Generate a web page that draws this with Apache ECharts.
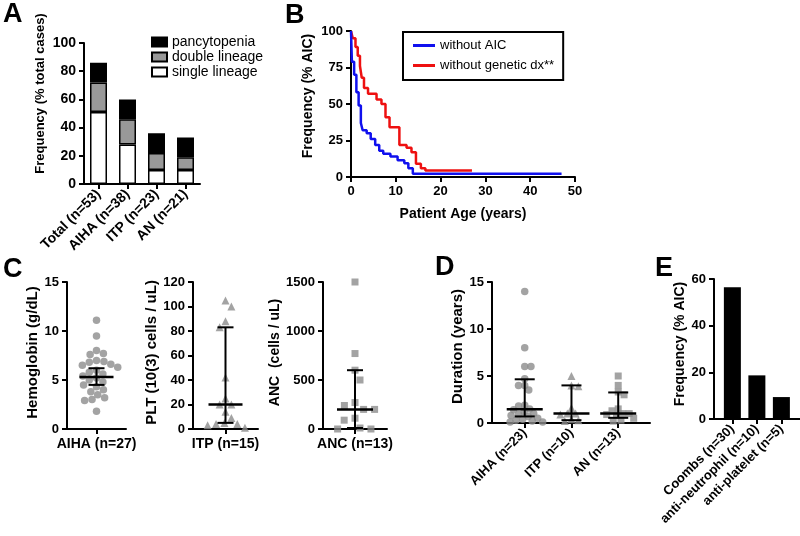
<!DOCTYPE html>
<html>
<head>
<meta charset="utf-8">
<script src="https://cdn.jsdelivr.net/npm/echarts@6/dist/echarts.min.js"></script>
<style>html,body{margin:0;padding:0;background:#fff}#c{width:800px;height:536px}</style>
</head>
<body>
<div id="c"></div>
<script>
// ---------- DATA ----------
// Panel A
const aCategories = ['Total (n=53)', 'AIHA (n=38)', 'ITP (n=23)', 'AN (n=21)'];
const aSingle = [51, 28, 10, 10];
const aDouble = [21, 18, 12, 9];
const aPancytopenia = [14, 14, 14, 14];
const aYTicks = [0, 20, 40, 60, 80, 100];
// Panel B (step curves: age in years, % AIC)
const bBlueAge = [0, 0.2, 0.7, 1.2, 1.7, 2.2, 2.6, 3.5, 4.4, 5.4, 6.3, 7.2, 8.8, 10.4, 11.9, 12.8, 13.8, 47];
const bBlueVal = [100, 79, 70, 58, 49, 37, 32, 30, 26, 22, 18, 16, 14, 11.5, 9.5, 6, 2.3, 2.3];
const bRedAge = [0, 0.4, 1.0, 1.5, 2.0, 2.4, 2.9, 3.8, 5.7, 6.8, 7.7, 8.6, 10.8, 12.4, 13.5, 14.5, 15.6, 16.6, 27];
const bRedVal = [100, 95, 89, 83, 76, 68, 61, 57, 53, 50, 41, 34, 22, 20, 17, 9, 6, 4.5, 4.5];
const bNames = ['without AIC', 'without genetic dx**'];
// Panel C
const hbValues = [11.1, 9.5, 8.0, 7.7, 7.6, 7.0, 6.9, 6.8, 6.6, 6.5, 6.3, 6.0, 5.8, 5.6, 5.4, 5.2, 5.0, 4.8, 4.5, 4.3, 4.0, 3.8, 3.5, 3.2, 3.0, 2.9, 1.8];
const hbStats = [5.3, 4.5, 6.2];      // median, lower, upper
const pltValues = [105, 100, 88, 83, 42, 25, 20, 20, 14, 9, 5, 4, 4, 3, 1];
const pltStats = [20, 5, 83];
const ancValues = [1500, 770, 600, 500, 270, 240, 200, 200, 110, 90, 10, 0, 0];
const ancStats = [200, 10, 600];
const cLabels = ['AIHA (n=27)', 'ITP (n=15)', 'ANC (n=13)'];
// Panel D
const dCategories = ['AIHA (n=23)', 'ITP (n=10)', 'AN (n=13)'];
const durAIHA = [14, 8, 6, 6, 4.7, 4, 4, 3.5, 1.9, 1.8, 1.5, 1.4, 1.2, 1.0, 0.9, 0.8, 0.7, 0.5, 0.4, 0.3, 0.2, 0.1, 0.1];
const durITP = [5, 4, 3.9, 1.6, 1.0, 1.0, 0.9, 0.4, 0.3, 0.2];
const durAN = [5, 4, 3.3, 3.0, 1.5, 1.3, 1.0, 1.0, 0.9, 0.8, 0.5, 0.3, 0.2];
const durStats = [[1.45, 0.7, 4.65], [1.0, 0.3, 4.0], [1.0, 0.55, 3.25]];
// Panel E
const eCategories = ['Coombs (n=30)', 'anti-neutrophil (n=10)', 'anti-platelet (n=5)'];
const eValues = [56.5, 18.7, 9.4];

// ---------- LAYOUT ----------
const FONT = 'Liberation Sans, Arial, sans-serif';
const G = {
  A:  {left: 84,  top: 43,  width: 116, height: 141},
  B:  {left: 351, top: 31,  width: 224, height: 146},
  C1: {left: 67,  top: 282, width: 59,  height: 147},
  C2: {left: 193, top: 282, width: 65,  height: 147},
  C3: {left: 323, top: 282, width: 64,  height: 147},
  D:  {left: 492, top: 282, width: 158, height: 141},
  E:  {left: 714, top: 279, width: 86,  height: 140}
};
const D_X = [0.3, 3.68];
const E_X = [0.25, 3.76];
const GRAY = '#8c8c8c';

const axisLine = {show: true, onZero: false, lineStyle: {color: '#000', width: 2}};
const axisTick = {show: true, length: 5, lineStyle: {color: '#000', width: 2}};
const lbl = (size, extra) => Object.assign({color: '#000', fontWeight: 'bold', fontSize: size, fontFamily: FONT}, extra || {});

function yAx(grid, min, max, interval, name, gap, shift, nameSize, labelSize) {
  return {
    type: 'value', gridIndex: grid, min, max, interval,
    name, nameLocation: 'middle', nameGap: gap,
    nameTextStyle: {fontWeight: 'bold', fontSize: nameSize, color: '#000', fontFamily: FONT,
      padding: shift ? [0, 0, 0, 2 * shift] : 0},
    axisLine, axisTick, axisLabel: lbl(labelSize, {margin: 8, formatter: v => String(v)}), splitLine: {show: false}
  };
}

// simple beeswarm: returns pixel offsets
function swarm(values, pxPerUnit, d) {
  const order = values.map((v, i) => i).sort((a, b) => values[b] - values[a]);
  const placed = [];
  const off = new Array(values.length).fill(0);
  let side = 1;
  for (const i of order) {
    const y = values[i] * pxPerUnit;
    const cands = [0];
    for (const p of placed) {
      const dy = Math.abs(p.y - y);
      if (dy < d) { const dx = Math.sqrt(d * d - dy * dy); cands.push(p.x + dx, p.x - dx); }
    }
    const ok = cands.filter(c => placed.every(p => (p.x - c) ** 2 + (p.y - y) ** 2 >= d * d - 0.01));
    ok.sort((a, b) => {
      const da = Math.abs(a), db = Math.abs(b);
      if (Math.abs(da - db) > 0.5) return da - db;
      return (Math.sign(b) === side) - (Math.sign(a) === side);
    });
    const x = ok[0];
    if (Math.abs(x) > 0.01) side = -Math.sign(x);
    off[i] = x;
    placed.push({x, y});
  }
  return off;
}
function swarmData(values, center, grid, yRange, xRange, d) {
  const pyu = grid.height / (yRange[1] - yRange[0]);
  const pxu = grid.width / (xRange[1] - xRange[0]);
  const off = swarm(values, pyu, d);
  return values.map((v, i) => [center + off[i] / pxu, v]);
}

function errRender(medHalf, capHalf) {
  return function (params, api) {
    const x = api.value(0);
    const pm = api.coord([x, api.value(1)]);
    const pl = api.coord([x, api.value(2)]);
    const ph = api.coord([x, api.value(3)]);
    const st = {stroke: '#000', lineWidth: 2};
    return {type: 'group', children: [
      {type: 'line', shape: {x1: pl[0], y1: pl[1], x2: ph[0], y2: ph[1]}, style: st},
      {type: 'line', shape: {x1: pm[0] - medHalf, y1: pm[1], x2: pm[0] + medHalf, y2: pm[1]}, style: {stroke: '#000', lineWidth: 2.5}},
      {type: 'line', shape: {x1: pl[0] - capHalf, y1: pl[1], x2: pl[0] + capHalf, y2: pl[1]}, style: st},
      {type: 'line', shape: {x1: ph[0] - capHalf, y1: ph[1], x2: ph[0] + capHalf, y2: ph[1]}, style: st}
    ]};
  };
}

function cX(grid, label) {
  return {
    type: 'value', gridIndex: grid, min: -1, max: 1,
    axisLine, axisTick: Object.assign({}, axisTick, {customValues: [0]}),
    axisLabel: lbl(14, {margin: 8, customValues: [0], formatter: () => label}),
    splitLine: {show: false}
  };
}

const grids = ['A', 'B', 'C1', 'C2', 'C3', 'D', 'E'].map(k => Object.assign({outerBoundsMode: 'none', containLabel: false}, G[k]));

const option = {
  animation: false,
  textStyle: {fontFamily: FONT},
  grid: grids,
  legend: [
    {
      data: ['pancytopenia', 'double lineage', 'single lineage'],
      orient: 'vertical', left: 151, top: 35, padding: 0, itemGap: 1,
      itemWidth: 15, itemHeight: 9, icon: 'rect',
      textStyle: {fontSize: 14, lineHeight: 14, color: '#000', fontFamily: FONT},
      selectedMode: false
    },
    {
      data: bNames,
      orient: 'vertical', left: 403, top: 32, padding: [7, 9, 8, 10], itemGap: 7,
      itemWidth: 22, itemHeight: 3, icon: 'rect',
      borderColor: '#000', borderWidth: 2,
      textStyle: {fontSize: 13, lineHeight: 13, color: '#000', fontFamily: FONT},
      selectedMode: false
    }
  ],
  xAxis: [
    {type: 'category', gridIndex: 0, data: aCategories, axisLine,
      axisTick: Object.assign({alignWithLabel: true}, axisTick),
      axisLabel: lbl(14, {rotate: 45, margin: 8, interval: 0})},
    {type: 'value', gridIndex: 1, min: 0, max: 50, interval: 10, axisLine, axisTick,
      axisLabel: lbl(13, {margin: 8}), splitLine: {show: false},
      name: 'Patient Age (years)', nameLocation: 'middle', nameGap: 30,
      nameTextStyle: {fontWeight: 'bold', fontSize: 14, color: '#000', fontFamily: FONT}},
    cX(2, cLabels[0]),
    cX(3, cLabels[1]),
    cX(4, cLabels[2]),
    {type: 'value', gridIndex: 5, min: D_X[0], max: D_X[1], axisLine,
      axisTick: Object.assign({}, axisTick, {customValues: [1, 2, 3]}),
      axisLabel: lbl(13, {rotate: 45, margin: 8, customValues: [1, 2, 3], formatter: v => dCategories[Math.round(v) - 1]}),
      splitLine: {show: false}},
    {type: 'value', gridIndex: 6, min: E_X[0], max: E_X[1], axisLine,
      axisTick: Object.assign({}, axisTick, {customValues: [1, 2, 3]}),
      axisLabel: lbl(13, {rotate: 45, margin: 8, customValues: [1, 2, 3], formatter: v => eCategories[Math.round(v) - 1]}),
      splitLine: {show: false}}
  ],
  yAxis: [
    yAx(0, aYTicks[0], aYTicks[aYTicks.length - 1], 20, 'Frequency (% total cases)', 37, 20, 13, 14),
    yAx(1, 0, 100, 25, 'Frequency (% AIC)', 36, 8, 14, 13),
    yAx(2, 0, 15, 5, 'Hemoglobin (g/dL)', 24, 3, 15, 13),
    yAx(3, 0, 120, 20, 'PLT (10(3) cells / uL)', 32, 3, 15, 13),
    yAx(4, 0, 1500, 500, 'ANC  (cells / uL)', 40, 3, 14, 13),
    yAx(5, 0, 15, 5, 'Duration (years)', 25, 6, 15, 13),
    yAx(6, 0, 60, 20, 'Frequency (% AIC)', 26, 5, 14, 13)
  ],
  series: [
    // A
    {name: 'single lineage', type: 'bar', stack: 'a', xAxisIndex: 0, yAxisIndex: 0, barWidth: 17, data: aSingle,
      itemStyle: {color: '#fff', borderColor: '#000', borderWidth: 1.5}},
    {name: 'double lineage', type: 'bar', stack: 'a', xAxisIndex: 0, yAxisIndex: 0, barWidth: 17, data: aDouble,
      itemStyle: {color: '#999', borderColor: '#000', borderWidth: 1.5}},
    {name: 'pancytopenia', type: 'bar', stack: 'a', xAxisIndex: 0, yAxisIndex: 0, barWidth: 17, data: aPancytopenia,
      itemStyle: {color: '#000', borderColor: '#000', borderWidth: 1.5}},
    // B
    {name: bNames[0], type: 'line', step: 'end', xAxisIndex: 1, yAxisIndex: 1, showSymbol: false,
      data: bBlueAge.map((a, i) => [a, bBlueVal[i]]), lineStyle: {color: '#1010ee', width: 2.5}, itemStyle: {color: '#1010ee'}, z: 3},
    {name: bNames[1], type: 'line', step: 'end', xAxisIndex: 1, yAxisIndex: 1, showSymbol: false,
      data: bRedAge.map((a, i) => [a, bRedVal[i]]), lineStyle: {color: '#ee1010', width: 2.5}, itemStyle: {color: '#ee1010'}, z: 2},
    // C1
    {type: 'scatter', xAxisIndex: 2, yAxisIndex: 2, symbol: 'circle', symbolSize: 7.5, itemStyle: {color: GRAY},
      data: swarmData(hbValues, 0, G.C1, [0, 15], [-1, 1], 7.5), silent: true},
    {type: 'custom', xAxisIndex: 2, yAxisIndex: 2, renderItem: errRender(17, 8), clip: false, z: 5,
      data: [[0].concat(hbStats)], encode: {x: 0, y: [1, 2, 3]}},
    // C2
    {type: 'scatter', xAxisIndex: 3, yAxisIndex: 3, symbol: 'triangle', symbolSize: 8, itemStyle: {color: GRAY},
      data: swarmData(pltValues, 0, G.C2, [0, 120], [-1, 1], 8.5), silent: true},
    {type: 'custom', xAxisIndex: 3, yAxisIndex: 3, renderItem: errRender(17, 8), clip: false, z: 5,
      data: [[0].concat(pltStats)], encode: {x: 0, y: [1, 2, 3]}},
    // C3
    {type: 'scatter', xAxisIndex: 4, yAxisIndex: 4, symbol: 'rect', symbolSize: 7, itemStyle: {color: GRAY},
      data: swarmData(ancValues, 0, G.C3, [0, 1500], [-1, 1], 11), silent: true},
    {type: 'custom', xAxisIndex: 4, yAxisIndex: 4, renderItem: errRender(18, 8), clip: false, z: 5,
      data: [[0].concat(ancStats)], encode: {x: 0, y: [1, 2, 3]}},
    // D
    {type: 'scatter', xAxisIndex: 5, yAxisIndex: 5, symbol: 'circle', symbolSize: 7.5, itemStyle: {color: GRAY},
      data: swarmData(durAIHA, 1, G.D, [0, 15], D_X, 6.2), silent: true},
    {type: 'scatter', xAxisIndex: 5, yAxisIndex: 5, symbol: 'triangle', symbolSize: 8, itemStyle: {color: GRAY},
      data: swarmData(durITP, 2, G.D, [0, 15], D_X, 7), silent: true},
    {type: 'scatter', xAxisIndex: 5, yAxisIndex: 5, symbol: 'rect', symbolSize: 7, itemStyle: {color: GRAY},
      data: swarmData(durAN, 3, G.D, [0, 15], D_X, 6.5), silent: true},
    {type: 'custom', xAxisIndex: 5, yAxisIndex: 5, renderItem: errRender(18, 10), clip: false, z: 5,
      data: durStats.map((s, i) => [i + 1].concat(s)), encode: {x: 0, y: [1, 2, 3]}},
    // E
    {type: 'bar', xAxisIndex: 6, yAxisIndex: 6, barWidth: 17, itemStyle: {color: '#000'},
      data: eValues.map((v, i) => [i + 1, v])}
  ],
  graphic: [
    ['A', 3, 1], ['B', 285, 2], ['C', 3, 256], ['D', 435, 254], ['E', 655, 255]
  ].map(([t, x, y]) => ({type: 'text', left: x, top: y, style: {text: t, font: 'bold 27px ' + FONT, fill: '#000'}}))
};

const chart = echarts.init(document.getElementById('c'), null, {renderer: 'canvas'});
chart.setOption(option);
</script>
</body>
</html>
